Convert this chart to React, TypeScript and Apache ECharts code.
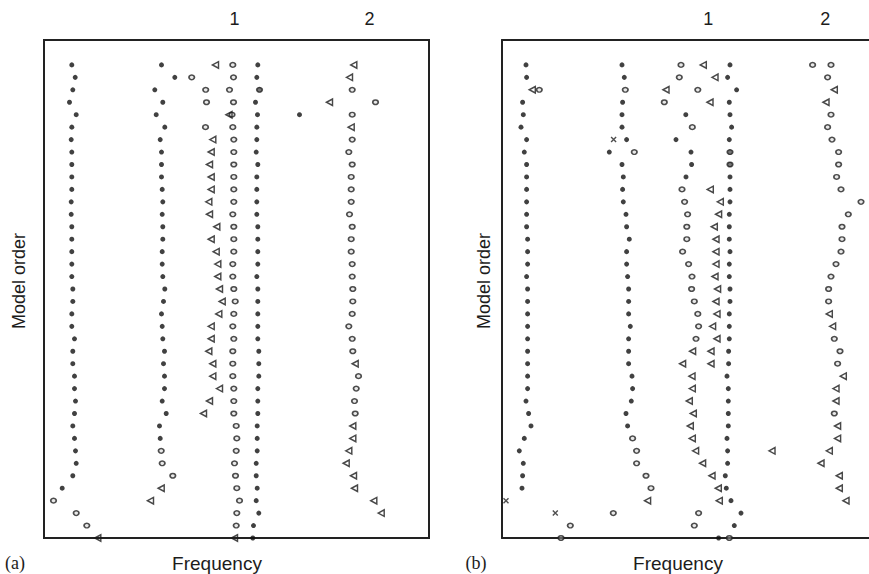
import React, { useEffect, useRef } from "react";
import * as echarts from "echarts";

type Row = [number, number[]]; // [model order, frequencies...]

// ---------- Panel (a) ----------
const aDots: Row[] = [
  [39, [2.78, 11.75, 21.38]], [38, [3.12, 13.08, 21.28]], [37, [2.88, 11.08, 21.55]],
  [36, [2.55, 11.88, 21.15]], [35, [3.22, 11.22, 21.35, 25.55]], [34, [2.78, 12.08, 21.28]],
  [33, [2.72, 11.62, 21.28]], [32, [2.78, 11.75, 21.22]], [31, [2.78, 11.75, 21.38]],
  [30, [2.78, 11.75, 21.28]], [29, [2.78, 11.82, 21.28]], [28, [2.72, 11.88, 21.28]],
  [27, [2.72, 11.82, 21.28]], [26, [2.78, 11.88, 21.38]], [25, [2.78, 11.88, 21.38]],
  [24, [2.78, 11.82, 21.38]], [23, [2.78, 11.82, 21.38]], [22, [2.78, 11.88, 21.28]],
  [21, [2.88, 12.08, 21.38]], [20, [2.88, 11.95, 21.38]], [19, [2.78, 11.75, 21.38]],
  [18, [2.78, 11.82, 21.38]], [17, [3.05, 11.88, 21.38]], [16, [2.88, 12.05, 21.48]],
  [15, [2.88, 11.95, 21.48]], [14, [3.05, 12.05, 21.48]], [13, [3.05, 12.05, 21.38]],
  [12, [3.15, 11.82, 21.38]], [11, [3.05, 12.22, 21.38]], [10, [2.88, 11.55, 21.32]],
  [9, [3.05, 11.62, 21.32]], [8, [3.15, 21.32]], [7, [3.22, 21.22]], [6, [2.88, 21.22]],
  [5, [1.82, 21.32]], [4, [21.22]], [3, [21.48]], [2, [20.95]], [1, [20.88]],
];
const aCircles: Row[] = [
  [39, [18.88]], [38, [14.77, 18.95]], [37, [16.17, 18.55, 21.55, 30.82]], [36, [16.25, 18.95, 33.15]],
  [35, [18.8, 30.82]], [34, [16.15, 18.88]], [33, [18.98, 30.82]], [32, [18.98, 30.48]],
  [31, [18.98, 30.82]], [30, [18.98, 30.72]], [29, [18.98, 30.72]], [28, [18.98, 30.72]],
  [27, [18.88, 30.55]], [26, [18.98, 30.82]], [25, [18.98, 30.72]], [24, [18.98, 30.72]],
  [23, [18.88, 30.82]], [22, [18.88, 30.82]], [21, [18.98, 30.88]], [20, [19.12, 30.88]],
  [19, [18.98, 30.82]], [18, [18.88, 30.48]], [17, [18.98, 30.82]], [16, [18.88, 30.88]],
  [15, [18.88]], [14, [18.88, 31.45]], [13, [18.98, 31.22]], [12, [18.98, 31.05]],
  [11, [18.98, 31.12]], [10, [19.22]], [9, [19.28]], [8, [11.72, 19.22]], [7, [11.82, 19.05]],
  [6, [12.88, 19.15]], [5, [19.28]], [4, [0.95, 19.55]], [3, [3.22, 19.28]], [2, [4.28, 19.22]],
];
const aTriangles: Row[] = [
  [39, [17.15, 30.98]], [38, [30.55]], [36, [28.55]], [35, [18.5]], [34, [30.72]],
  [33, [16.88]], [32, [16.72]], [31, [16.55]], [30, [16.72]], [29, [16.72]], [28, [16.48]],
  [27, [16.55]], [26, [17.28]], [25, [16.72]], [24, [17.22]], [23, [17.38]], [22, [17.38]],
  [21, [17.55]], [20, [17.82]], [19, [17.48]], [18, [16.72]], [17, [16.72]], [16, [16.48]],
  [15, [16.88, 31.12]], [14, [16.88]], [13, [17.55]], [12, [16.55]], [11, [15.95]],
  [10, [30.88]], [9, [30.88]], [8, [30.48]], [7, [30.22]], [6, [30.95]], [5, [11.72, 31.05]],
  [4, [10.65, 32.98]], [3, [33.72]], [1, [5.38, 19.05]],
];
const aCrosses: Row[] = [];
const aModeFreqs = [19.05, 32.55];

// ---------- Panel (b) ----------
const bDots: Row[] = [
  [39, [2.4, 12.0, 22.8]], [38, [2.46, 12.23, 22.56]], [37, [23.46]], [36, [2.06, 12.06, 22.73]],
  [35, [2.13, 12.0, 18.38, 22.8]], [34, [1.9, 12.0, 22.96]], [33, [2.46, 12.46, 17.4, 22.73]],
  [32, [2.23, 10.73, 18.9, 22.8]], [31, [2.46, 12.0, 18.96, 22.8]], [30, [2.46, 12.13, 18.4, 22.8]],
  [29, [2.46, 12.06, 22.8]], [28, [2.46, 12.13, 22.8]], [27, [2.46, 12.4, 22.73]],
  [26, [2.46, 12.46, 22.73]], [25, [2.56, 12.73, 22.73]], [24, [2.56, 12.46, 22.8]],
  [23, [2.56, 12.46, 22.73]], [22, [2.46, 12.56, 22.73]], [21, [2.56, 12.66, 22.8]],
  [20, [2.56, 12.66, 22.8]], [19, [2.56, 12.66, 22.73]], [18, [2.56, 12.83, 22.73]],
  [17, [2.56, 12.66, 22.73]], [16, [2.56, 12.66, 22.66]], [15, [2.56, 12.66, 22.66]],
  [14, [2.56, 13.0, 22.5]], [13, [2.56, 13.06, 22.63]], [12, [2.4, 12.93, 22.63]],
  [11, [2.66, 12.4, 22.63]], [10, [2.9, 12.56, 22.63]], [9, [2.23, 22.5]], [8, [1.73, 22.56]],
  [7, [2.13, 22.56]], [6, [2.06, 22.33]], [5, [2.0, 22.43]], [4, [22.9]], [3, [23.9]],
  [2, [23.23]], [1, [21.66]],
];
const bCircles: Row[] = [
  [39, [17.9, 31.06, 32.9]], [38, [17.73, 32.56]], [37, [3.73, 12.33, 19.58]], [36, [16.23]],
  [35, [32.9]], [34, [19.03, 32.56]], [33, [33.0]], [32, [13.23, 22.8, 33.66]],
  [31, [22.8, 33.66]], [30, [33.46]], [29, [18.0, 33.9]], [28, [18.26, 35.9]],
  [27, [18.56, 34.63]], [26, [18.48, 34.0]], [25, [18.48, 34.0]], [24, [18.06, 33.9]],
  [23, [18.66, 33.4]], [22, [19.0, 32.9]], [21, [18.96, 32.66]], [20, [19.23, 32.66]],
  [19, [19.58]], [18, [19.66]], [17, [19.4, 33.23]], [16, [33.8]], [15, [33.56]],
  [11, [33.23]], [9, [13.06]], [8, [13.46]], [7, [13.46]], [6, [14.4]], [5, [14.9]],
  [3, [11.13, 19.66]], [2, [6.83, 19.23]], [1, [5.9, 22.73]],
];
const bTriangles: Row[] = [
  [39, [20.13]], [38, [21.3]], [37, [3.03, 16.4, 33.23]], [36, [20.8, 32.4]],
  [29, [20.83]], [28, [21.83]], [27, [21.66]], [26, [21.23]], [25, [21.4]], [24, [21.4]],
  [23, [21.4]], [22, [21.3]], [21, [21.56]], [20, [21.4]], [19, [21.5, 32.73]],
  [18, [21.06, 33.06]], [17, [21.5]], [16, [19.06, 20.9]], [15, [18.06, 20.9]],
  [14, [19.0, 34.13]], [13, [19.03, 33.4]], [12, [18.73, 33.4]], [11, [19.13]],
  [10, [18.83, 33.56]], [9, [19.03, 33.56]], [8, [19.36, 27.0, 32.73]], [7, [20.06, 31.9]],
  [6, [21.0, 33.73]], [5, [21.63, 33.73]], [4, [14.56, 21.73, 34.4]],
];
const bCrosses: Row[] = [[33, [11.16]], [4, [0.4]], [3, [5.33]]];
const bModeFreqs = [20.63, 32.33];

const modeLabels = ["1", "2"];
const ORDER_MIN = 1;
const ORDER_MAX = 41;
const A_FREQ_MAX = 38.5;
const B_FREQ_MAX = 36.7;

const SANS = '"Liberation Sans", Arial, Helvetica, sans-serif';
const SERIF = '"Liberation Serif", "Times New Roman", serif';
const INK = "#1c1c1c";
const FRAME = { color: "#222", width: 2 };

function flatten(rows: Row[]): number[][] {
  const out: number[][] = [];
  rows.forEach(([o, fs]) => fs.forEach((f) => out.push([f, o])));
  return out;
}

const TRI = "path://M0,5L9,0L9,10Z";
const CROSS = "path://M0,0L10,10M10,0L0,10";

function markerSeries(grid: number, dots: Row[], circles: Row[], tris: Row[], crosses: Row[]) {
  const base = { type: "scatter", xAxisIndex: grid * 2, yAxisIndex: grid, silent: true, clip: false };
  return [
    { ...base, name: "dots", data: flatten(dots), symbol: "circle", symbolSize: 5,
      itemStyle: { color: "#111" } },
    { ...base, name: "circles", data: flatten(circles), symbol: "circle", symbolSize: [5.5, 4.6],
      itemStyle: { color: "rgba(200,200,200,0.5)", borderColor: "#222", borderWidth: 1.6 } },
    { ...base, name: "triangles", data: flatten(tris), symbol: TRI, symbolSize: [6, 6.5],
      itemStyle: { color: "rgba(255,255,255,0)", borderColor: "#1a1a1a", borderWidth: 1.5 } },
    { ...base, name: "crosses", data: flatten(crosses), symbol: CROSS, symbolSize: 5,
      itemStyle: { color: "rgba(255,255,255,0)", borderColor: "#222", borderWidth: 1.4 } },
  ];
}

function xAxes(grid: number, max: number, modes: number[], frame: boolean) {
  return [
    { gridIndex: grid, type: "value", min: 0, max, axisLine: { show: frame, lineStyle: FRAME },
      axisTick: { show: false }, axisLabel: { show: false }, splitLine: { show: false } },
    { gridIndex: grid, type: "value", position: "top", min: 0, max,
      axisLine: { show: frame, lineStyle: FRAME }, axisTick: { show: false }, splitLine: { show: false },
      axisLabel: {
        show: true, customValues: modes, margin: 12, fontSize: 18, fontFamily: SANS, color: INK,
        formatter: (v: number) => {
          let best = 0;
          modes.forEach((m, i) => { if (Math.abs(m - v) < Math.abs(modes[best] - v)) best = i; });
          return modeLabels[best];
        },
      } },
  ];
}

function yAxis(grid: number, frame: boolean) {
  return { gridIndex: grid, type: "value", min: ORDER_MIN, max: ORDER_MAX,
    axisLine: { show: frame, lineStyle: FRAME }, axisTick: { show: false }, axisLabel: { show: false },
    splitLine: { show: false } };
}

function txt(text: string, x: number, y: number, font: string, rotation = 0) {
  return { type: "text", x, y, rotation, silent: true,
    style: { text, font, fill: INK, align: "center", verticalAlign: "middle" } };
}

export default function App() {
  const ref = useRef<HTMLDivElement>(null);
  useEffect(() => {
    if (!ref.current) return;
    const chart = echarts.init(ref.current, undefined, { renderer: "svg" });
    chart.setOption({
      animation: false,
      backgroundColor: "#fff",
      grid: [
        { show: true, borderColor: "#222", borderWidth: 2, left: 44, top: 40, width: 385, height: 498 },
        { show: false, left: 502, top: 40, right: 0, height: 498 },
      ],
      xAxis: [...xAxes(0, A_FREQ_MAX, aModeFreqs, false), ...xAxes(1, B_FREQ_MAX, bModeFreqs, true)],
      yAxis: [yAxis(0, false), yAxis(1, true)],
      series: [
        ...markerSeries(0, aDots, aCircles, aTriangles, aCrosses),
        ...markerSeries(1, bDots, bCircles, bTriangles, bCrosses),
      ],
      graphic: [
        txt("(a)", 15, 563, `18px ${SERIF}`),
        txt("(b)", 476, 563, `18px ${SERIF}`),
        txt("Frequency", 217, 563, `19px ${SANS}`),
        txt("Frequency", 678, 563, `19px ${SANS}`),
        txt("Model order", 19, 281, `18px ${SANS}`, Math.PI / 2),
        txt("Model order", 484, 281, `18px ${SANS}`, Math.PI / 2),
      ],
    });
    return () => chart.dispose();
  }, []);
  return <div ref={ref} style={{ width: 869, height: 574, position: "absolute", left: 0, top: 0 }} />;
}
